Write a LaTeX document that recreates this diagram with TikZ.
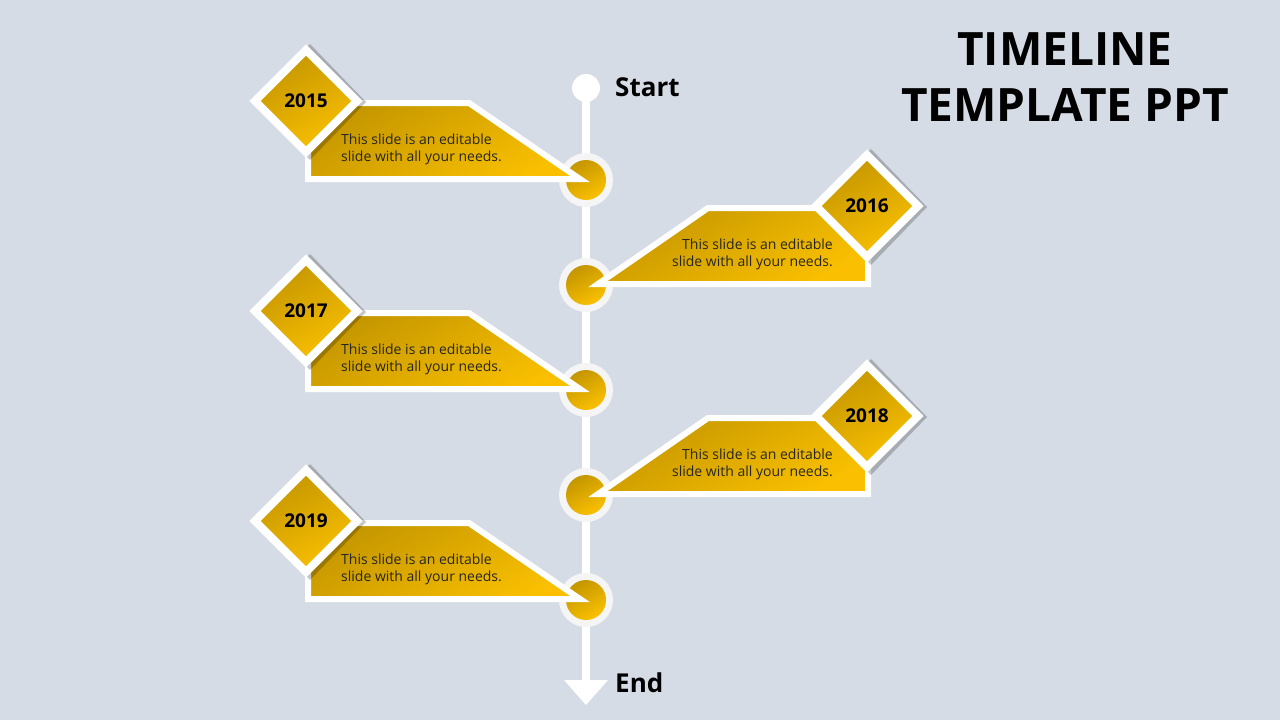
\documentclass[tikz,border=0pt]{standalone}
\usepackage{fontspec}
\setmainfont{Open Sans}
\definecolor{bg}{HTML}{D6DCE5}
\definecolor{goldA}{HTML}{C49600}
\definecolor{goldB}{HTML}{FAC000}
\begin{document}
\begin{tikzpicture}[x=1pt,y=-1pt,
  gold/.style={top color=goldA,bottom color=goldB,shading angle=30},
  band/.style={gold,draw=white,line width=6pt,line join=miter},
  dia/.style={gold,draw=white,line width=8pt,line join=miter},
  shd/.style={fill=black,opacity=0.22},
  body/.style={font=\fontsize{14}{17}\selectfont,text=black!85,inner sep=0pt},
  yr/.style={font=\bfseries\fontsize{19}{22}\selectfont,inner sep=0pt},
  lbl/.style={font=\bfseries\fontsize{26}{30}\selectfont,inner sep=0pt,anchor=west}]
\fill[bg] (0,0) rectangle (1280,720);
\useasboundingbox (0,0) rectangle (1280,720);
% title
\node[font=\bfseries\fontsize{46}{56}\selectfont,align=center,inner sep=0pt] (title) at (1065,77) {TIMELINE\\TEMPLATE PPT};
% spine
\coordinate (top) at (586,88);
\coordinate (bot) at (586,684);
\draw[white,line width=8pt] (top) -- (bot);
\fill[white] (top) circle (14);
\fill[white] (564,680) -- (608,680) -- (586,705) -- cycle;
\node[lbl] (start) at (615,87) {Start};
\node[lbl] (end) at (615,683) {End};
% rows
\foreach \c/\yr/\s in {180/2015/L,285/2016/R,390/2017/L,495/2018/R,600/2019/L}{
  \fill[white!96!black] (586,\c) circle (27);
  \shade[gold] (586,\c) circle (20);
  \if L\s
    \path[band] (308,\c-77) -- (469,\c-77) -- (580,\c-1) -- (308,\c-1) -- cycle;
    \fill[shd] (310,\c-79-57) -- (366,\c-79+1) -- (310,\c-79+59) -- (254,\c-79+1) -- cycle;
    \path[dia] (306,\c-79-51) -- (357,\c-79) -- (306,\c-79+51) -- (255,\c-79) -- cycle;
    \node[yr] (y\yr) at (306,\c-79) {\yr};
    \node[body,anchor=north west,align=left] (t\yr) at (341,\c-46) {This slide is an editable\\slide with all your needs.};
  \else
    \path[band] (868,\c-77) -- (708,\c-77) -- (598,\c-1) -- (868,\c-1) -- cycle;
    \fill[shd] (871,\c-79-57) -- (927,\c-79+1) -- (871,\c-79+59) -- (815,\c-79+1) -- cycle;
    \path[dia] (867,\c-79-51) -- (918,\c-79) -- (867,\c-79+51) -- (816,\c-79) -- cycle;
    \node[yr] (y\yr) at (867,\c-79) {\yr};
    \node[body,anchor=north east,align=right] (t\yr) at (833,\c-46) {This slide is an editable\\slide with all your needs.};
  \fi
}
\end{tikzpicture}
\end{document}
